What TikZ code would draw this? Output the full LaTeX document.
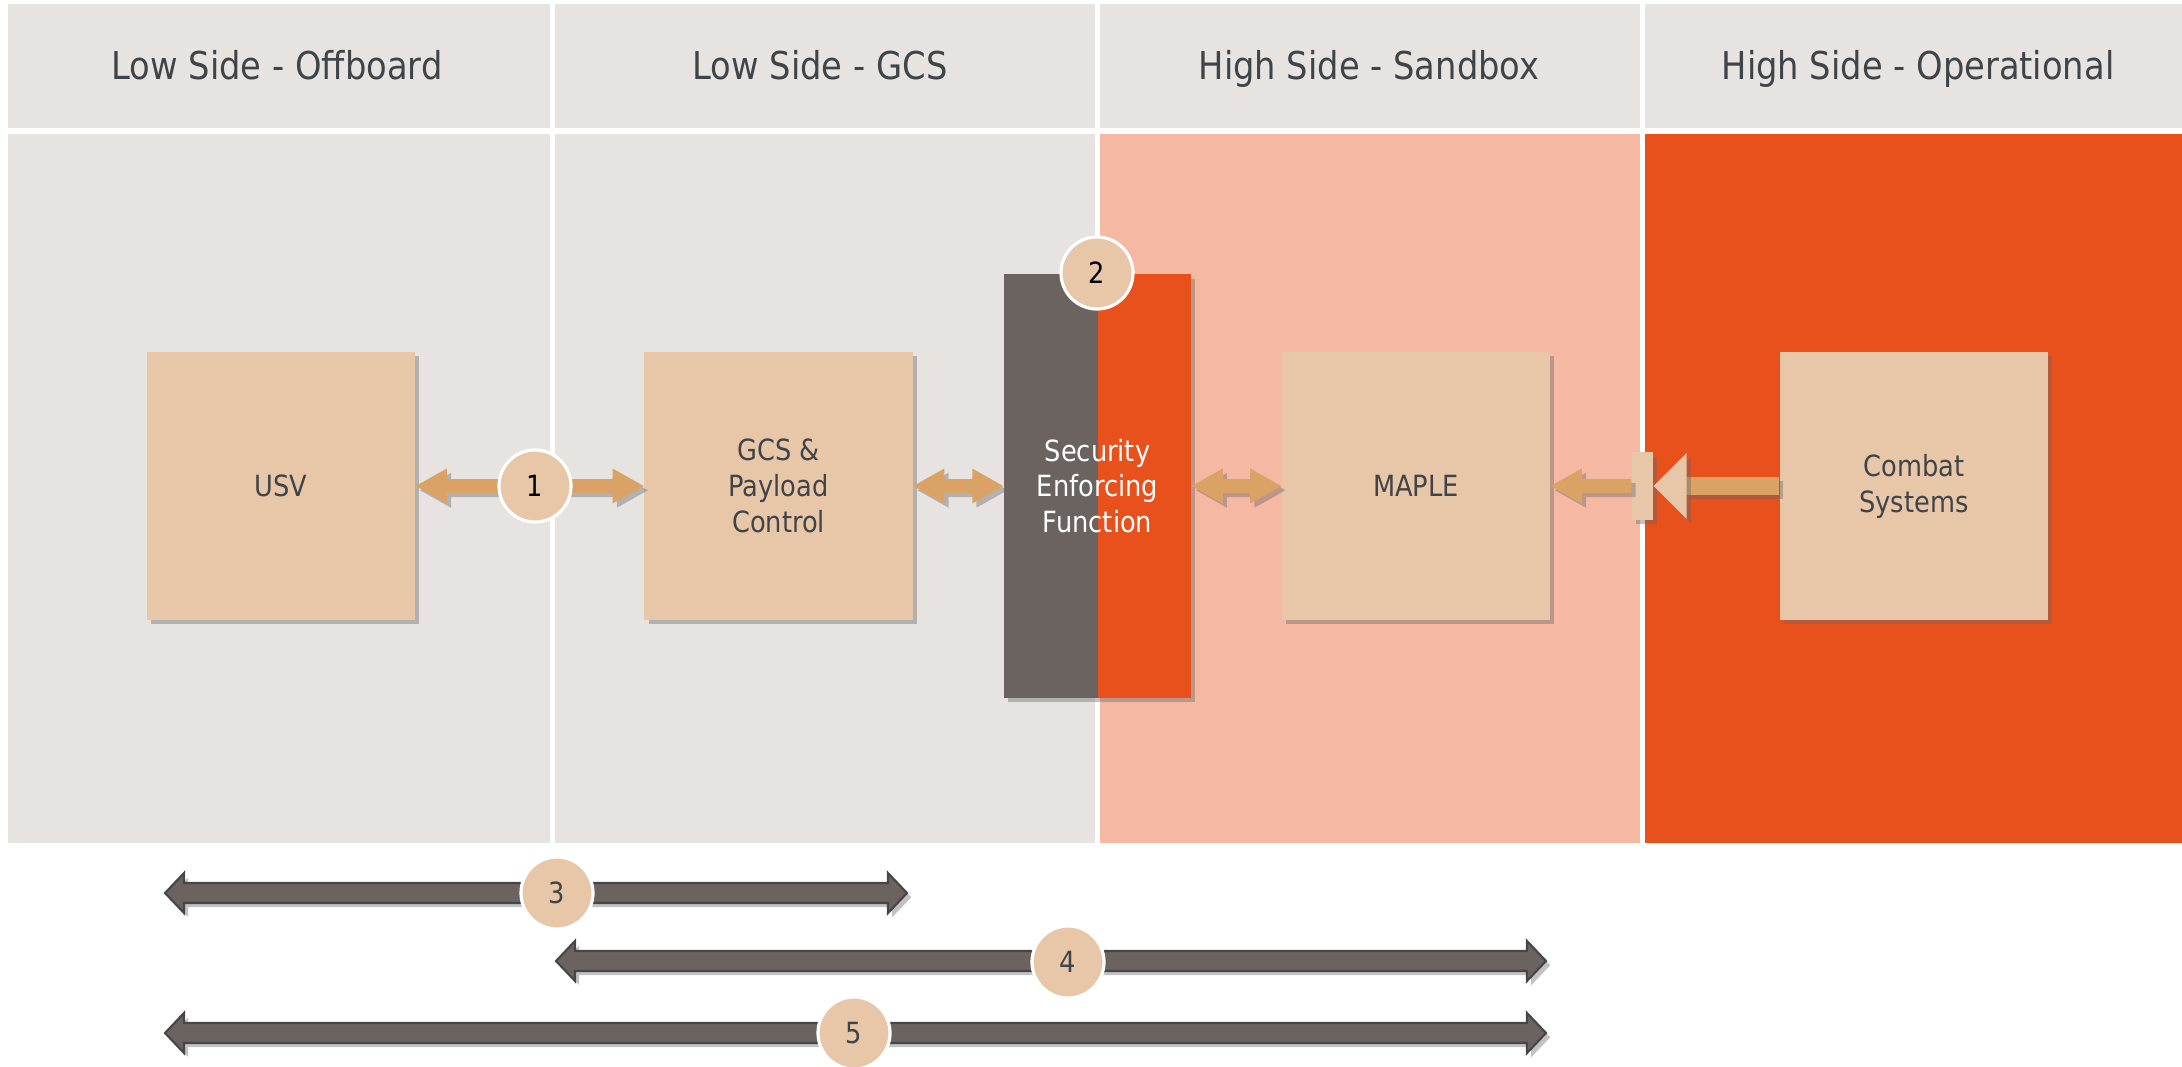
\documentclass[tikz,border=0pt]{standalone}
\usepackage{fontspec}
\setmainfont{DejaVu Sans}[FakeStretch=0.88]
\usetikzlibrary{calc,shadows}

\definecolor{zone}{HTML}{E7E3E0}
\definecolor{sandbox}{HTML}{F4B8A3}
\definecolor{opzone}{HTML}{E8501C}
\definecolor{tan}{HTML}{E8C6A8}
\definecolor{flow}{HTML}{DBA266}
\definecolor{slate}{HTML}{6B635F}
\definecolor{slateline}{HTML}{46464A}
\definecolor{ink}{HTML}{3F4449}

% horizontal block arrow, head at both ends: style, from, to, head length, head half, shaft half
\newcommand\blockarrow[6][]{%
  \draw[#1] (#2) -- ++(#4,-#5) -- ++(0,#5-#6) -- ($(#3)+(-#4,-#6)$) -- ++(0,#6-#5) -- (#3)
    -- ++(-#4,#5) -- ++(0,#6-#5) -- ($(#2)+(#4,#6)$) -- ++(0,#5-#6) -- cycle;}

\tikzset{
  shade/.style={drop shadow={shadow xshift=1.2pt,shadow yshift=-1.2pt,opacity=0.4,fill=black!60}},
  zonetitle/.style={anchor=base,text=ink,font=\fontsize{10.9}{13}\selectfont},
  unit/.style={shade,fill=tan,minimum width=2.68cm,minimum height=2.68cm,align=center,
    text=ink,font=\fontsize{8.3}{10.2}\selectfont},
  flowarrow/.style={shade,fill=flow,draw=none},
  linkarrow/.style={shade,fill=slate,draw=slateline,line width=0.6pt},
  badge/.style={circle,fill=tan,draw=white,line width=0.9pt,minimum size=0.72cm,inner sep=0pt,
    font=\fontsize{8.3}{9}\selectfont},
}

\begin{document}
\begin{tikzpicture}[x=0.01cm,y=-0.01cm]
\useasboundingbox (0,0) rectangle (2182,1066);
\clip (0,0) rectangle (2182,1066);

% title row
\fill[zone] (8,4) rectangle (550,128);
\fill[zone] (555,4) rectangle (1095,128);
\fill[zone] (1100,4) rectangle (1640,128);
\fill[zone] (1645,4) rectangle (2182,128);
\node[zonetitle] (t1) at (277,79) {Low Side - Offboard};
\node[zonetitle] (t2) at (820,79) {Low Side - GCS};
\node[zonetitle] (t3) at (1369,79) {High Side - Sandbox};
\node[zonetitle] (t4) at (1918,79) {High Side - Operational};

% zones
\fill[zone] (8,134) rectangle (550,843);
\fill[zone] (555,134) rectangle (1095,843);
\fill[sandbox] (1100,134) rectangle (1640,843);
\fill[opzone] (1645,134) rectangle (2182,843);

% units
\node[unit] (usv) at (281,486) {USV};
\node[unit] (gcs) at (778.5,486) {GCS \&\\Payload\\Control};
\node[unit] (maple) at (1416,486) {MAPLE};
\node[unit] (combat) at (1914,486) {Combat\\Systems};
\node[shade,fill=opzone,minimum width=1.87cm,minimum height=4.23cm,align=center,text=white,
  font=\fontsize{8.3}{10.2}\selectfont,
  path picture={\fill[slate] (path picture bounding box.north west) rectangle (path picture bounding box.south);}]
  (sef) at (1097.5,486) {Security\\Enforcing\\Function};

% links
\blockarrow[flowarrow]{usv.east}{gcs.west}{31}{17.5}{7}
\blockarrow[flowarrow]{gcs.east}{sef.west}{31}{17.5}{7}
\blockarrow[flowarrow]{sef.east}{maple.west}{31}{17.5}{7}

% one-way gate between maple and combat systems
\fill[flow,shade] ($(combat.west)+(-94,-9)$) rectangle ($(combat.west)+(0,9)$);
\node[shade,fill=tan,minimum width=0.21cm,minimum height=0.67cm,inner sep=0pt] (gate) at (1642.5,486) {};
\fill[tan,shade] (gate.east) -- ++(33,-33) -- ++(0,66) -- cycle;
\fill[flowarrow] (maple.east) -- ++(31,-17.5) -- ++(0,10.5) -- ($(gate.west)+(0,-7)$) -- ++(0,14)
  -- ($(maple.east)+(31,7)$) -- ++(0,10.5) -- cycle;

\node[badge] (b1) at (535,486) {1};
\node[badge] (b2) at (1097,273) {2};

% spans
\coordinate (s3a) at (165,893);
\coordinate (s3b) at (907,893);
\coordinate (s4a) at (556,961);
\coordinate (s4b) at (1546,961);
\coordinate (s5a) at (165,1033);
\coordinate (s5b) at (1546,1033);
\blockarrow[linkarrow]{s3a}{s3b}{19}{20}{10}
\blockarrow[linkarrow]{s4a}{s4b}{19}{20}{10}
\blockarrow[linkarrow]{s5a}{s5b}{19}{20}{10}
\node[badge,text=ink] (b3) at (557,893) {3};
\node[badge,text=ink] (b4) at (1068,962) {4};
\node[badge,text=ink] (b5) at (854,1033) {5};
\end{tikzpicture}
\end{document}
